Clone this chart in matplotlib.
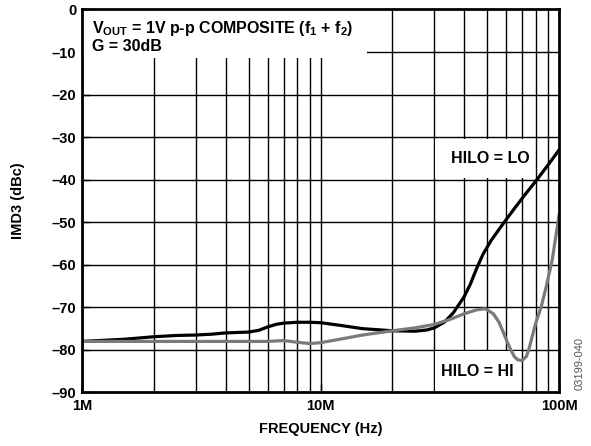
import matplotlib
matplotlib.use("Agg")
import matplotlib.pyplot as plt
import numpy as np

plt.rcParams['font.family'] = ['Liberation Sans', 'DejaVu Sans']
plt.rcParams['font.weight'] = 'bold'
plt.rcParams['mathtext.fontset'] = 'custom'
plt.rcParams['mathtext.rm'] = 'Liberation Sans:bold'
plt.rcParams['mathtext.bf'] = 'Liberation Sans:bold'
plt.rcParams['mathtext.it'] = 'Liberation Sans:bold'
plt.rcParams['mathtext.default'] = 'bf'

# data (frequency in MHz, IMD3 in dBc)
lo_freq = [1, 1.5, 2, 2.5, 3, 3.5, 4, 4.5, 5, 5.5, 6, 6.5, 7, 8, 9, 10, 12, 15, 20,
           25, 28, 30, 33, 36, 40, 42.5, 45, 48, 52, 58, 64.5, 72, 80.7, 90, 100]
lo_imd = [-78, -77.5, -76.9, -76.6, -76.5, -76.3, -76.0, -75.9, -75.8, -75.4, -74.6,
          -74.0, -73.7, -73.5, -73.5, -73.6, -74.2, -75.0, -75.5, -75.6, -75.3, -74.8,
          -73.5, -71.3, -67.5, -64.5, -61, -57.5, -54.2, -50.5, -47, -43.5, -40, -36.5, -33]

hi_freq = [1, 2, 3, 5, 6, 7, 8, 9, 10, 12, 15, 20, 25, 30, 35, 40, 45, 49, 53, 56,
           58.5, 61, 63, 65, 67, 70, 73, 75, 77, 80, 84, 88, 93.5, 100]
hi_imd = [-78, -78, -78, -78, -78, -77.8, -78.2, -78.5, -78.3, -77.5, -76.5, -75.5,
          -74.8, -74, -72.8, -71.5, -70.6, -70.3, -71.5, -73.5, -76, -78.5, -80.2,
          -81.6, -82.3, -82.5, -81.5, -79.5, -77, -73.5, -70, -65.5, -59, -48.3]

yticks = [0, -10, -20, -30, -40, -50, -60, -70, -80, -90]

fig = plt.figure(figsize=(5.91, 4.46), dpi=100)
ax = fig.add_axes([0.1387, 0.120, 0.8073, 0.8587])
ax.set_xscale('log')
ax.set_xlim(1e6, 1e8)
ax.set_ylim(-90, 0)

# grid lines
for dec in [1e6, 1e7]:
    for k in range(1, 10):
        ax.axvline(dec * k, color='black', lw=1.0, zorder=1)
for y in yticks[1:-1]:
    ax.axhline(y, color='black', lw=1.0, zorder=1)

# white boxes behind the labels
ax.fill_between([1e6, 15.7e6], -11.4, 0, color='white', lw=0, zorder=2)
ax.fill_between([30.3e6, 79.3e6], -39.6, -30.4, color='white', lw=0, zorder=2)
ax.fill_between([30.3e6, 69.5e6], -90, -80.3, color='white', lw=0, zorder=2)

ax.plot(np.array(lo_freq) * 1e6, lo_imd, color='black', lw=2.3, zorder=4)
ax.plot(np.array(hi_freq) * 1e6, hi_imd, color='#7a7a7a', lw=2.3, zorder=4)

ax.set_xticks([1e6, 1e7, 1e8])
ax.set_xticklabels(['1M', '10M', '100M'])
ax.set_xticks([], minor=True)
ax.set_yticks(yticks)
ax.set_yticklabels(['0'] + ['\u2013%d' % abs(v) for v in yticks[1:]])
ax.tick_params(axis='both', which='major', direction='in', length=6, width=1,
               labelsize=10.5, pad=4)
ax.tick_params(axis='x', which='major', pad=5)
ax.set_xticks([4e7, 5e7, 6e7], minor=True)
ax.tick_params(axis='x', which='minor', direction='in', length=6, width=1, labelbottom=False)

for s in ax.spines.values():
    s.set_linewidth(2)
    s.set_zorder(5)

ax.set_xlabel('FREQUENCY (Hz)', fontsize=10.5, fontweight='bold', labelpad=6)
ax.set_ylabel('IMD3 (dBc)', fontsize=10.5, fontweight='bold', labelpad=19)

ax.text(0.022, 0.9386, r'$\mathregular{V_{OUT}}$ = 1V p-p COMPOSITE ($\mathregular{f_1}$ + $\mathregular{f_2}$)',
        transform=ax.transAxes, fontsize=11.5, fontweight='bold', va='baseline', zorder=6)
ax.text(0.022, 0.8924, 'G = 30dB', transform=ax.transAxes, fontsize=11.5,
        fontweight='bold', va='baseline', zorder=6)
ax.text(0.855, 0.612, 'HILO = LO', transform=ax.transAxes, fontsize=11.5,
        fontweight='bold', ha='center', va='center', zorder=6)
ax.text(0.828, 0.0535, 'HILO = HI', transform=ax.transAxes, fontsize=11.5,
        fontweight='bold', ha='center', va='center', zorder=6)

fig.text(0.981, 0.186, '03199-040', rotation=90, fontsize=8, fontweight='normal',
         color='#555555', ha='center', va='center')

fig.savefig('out.png', dpi=100)
